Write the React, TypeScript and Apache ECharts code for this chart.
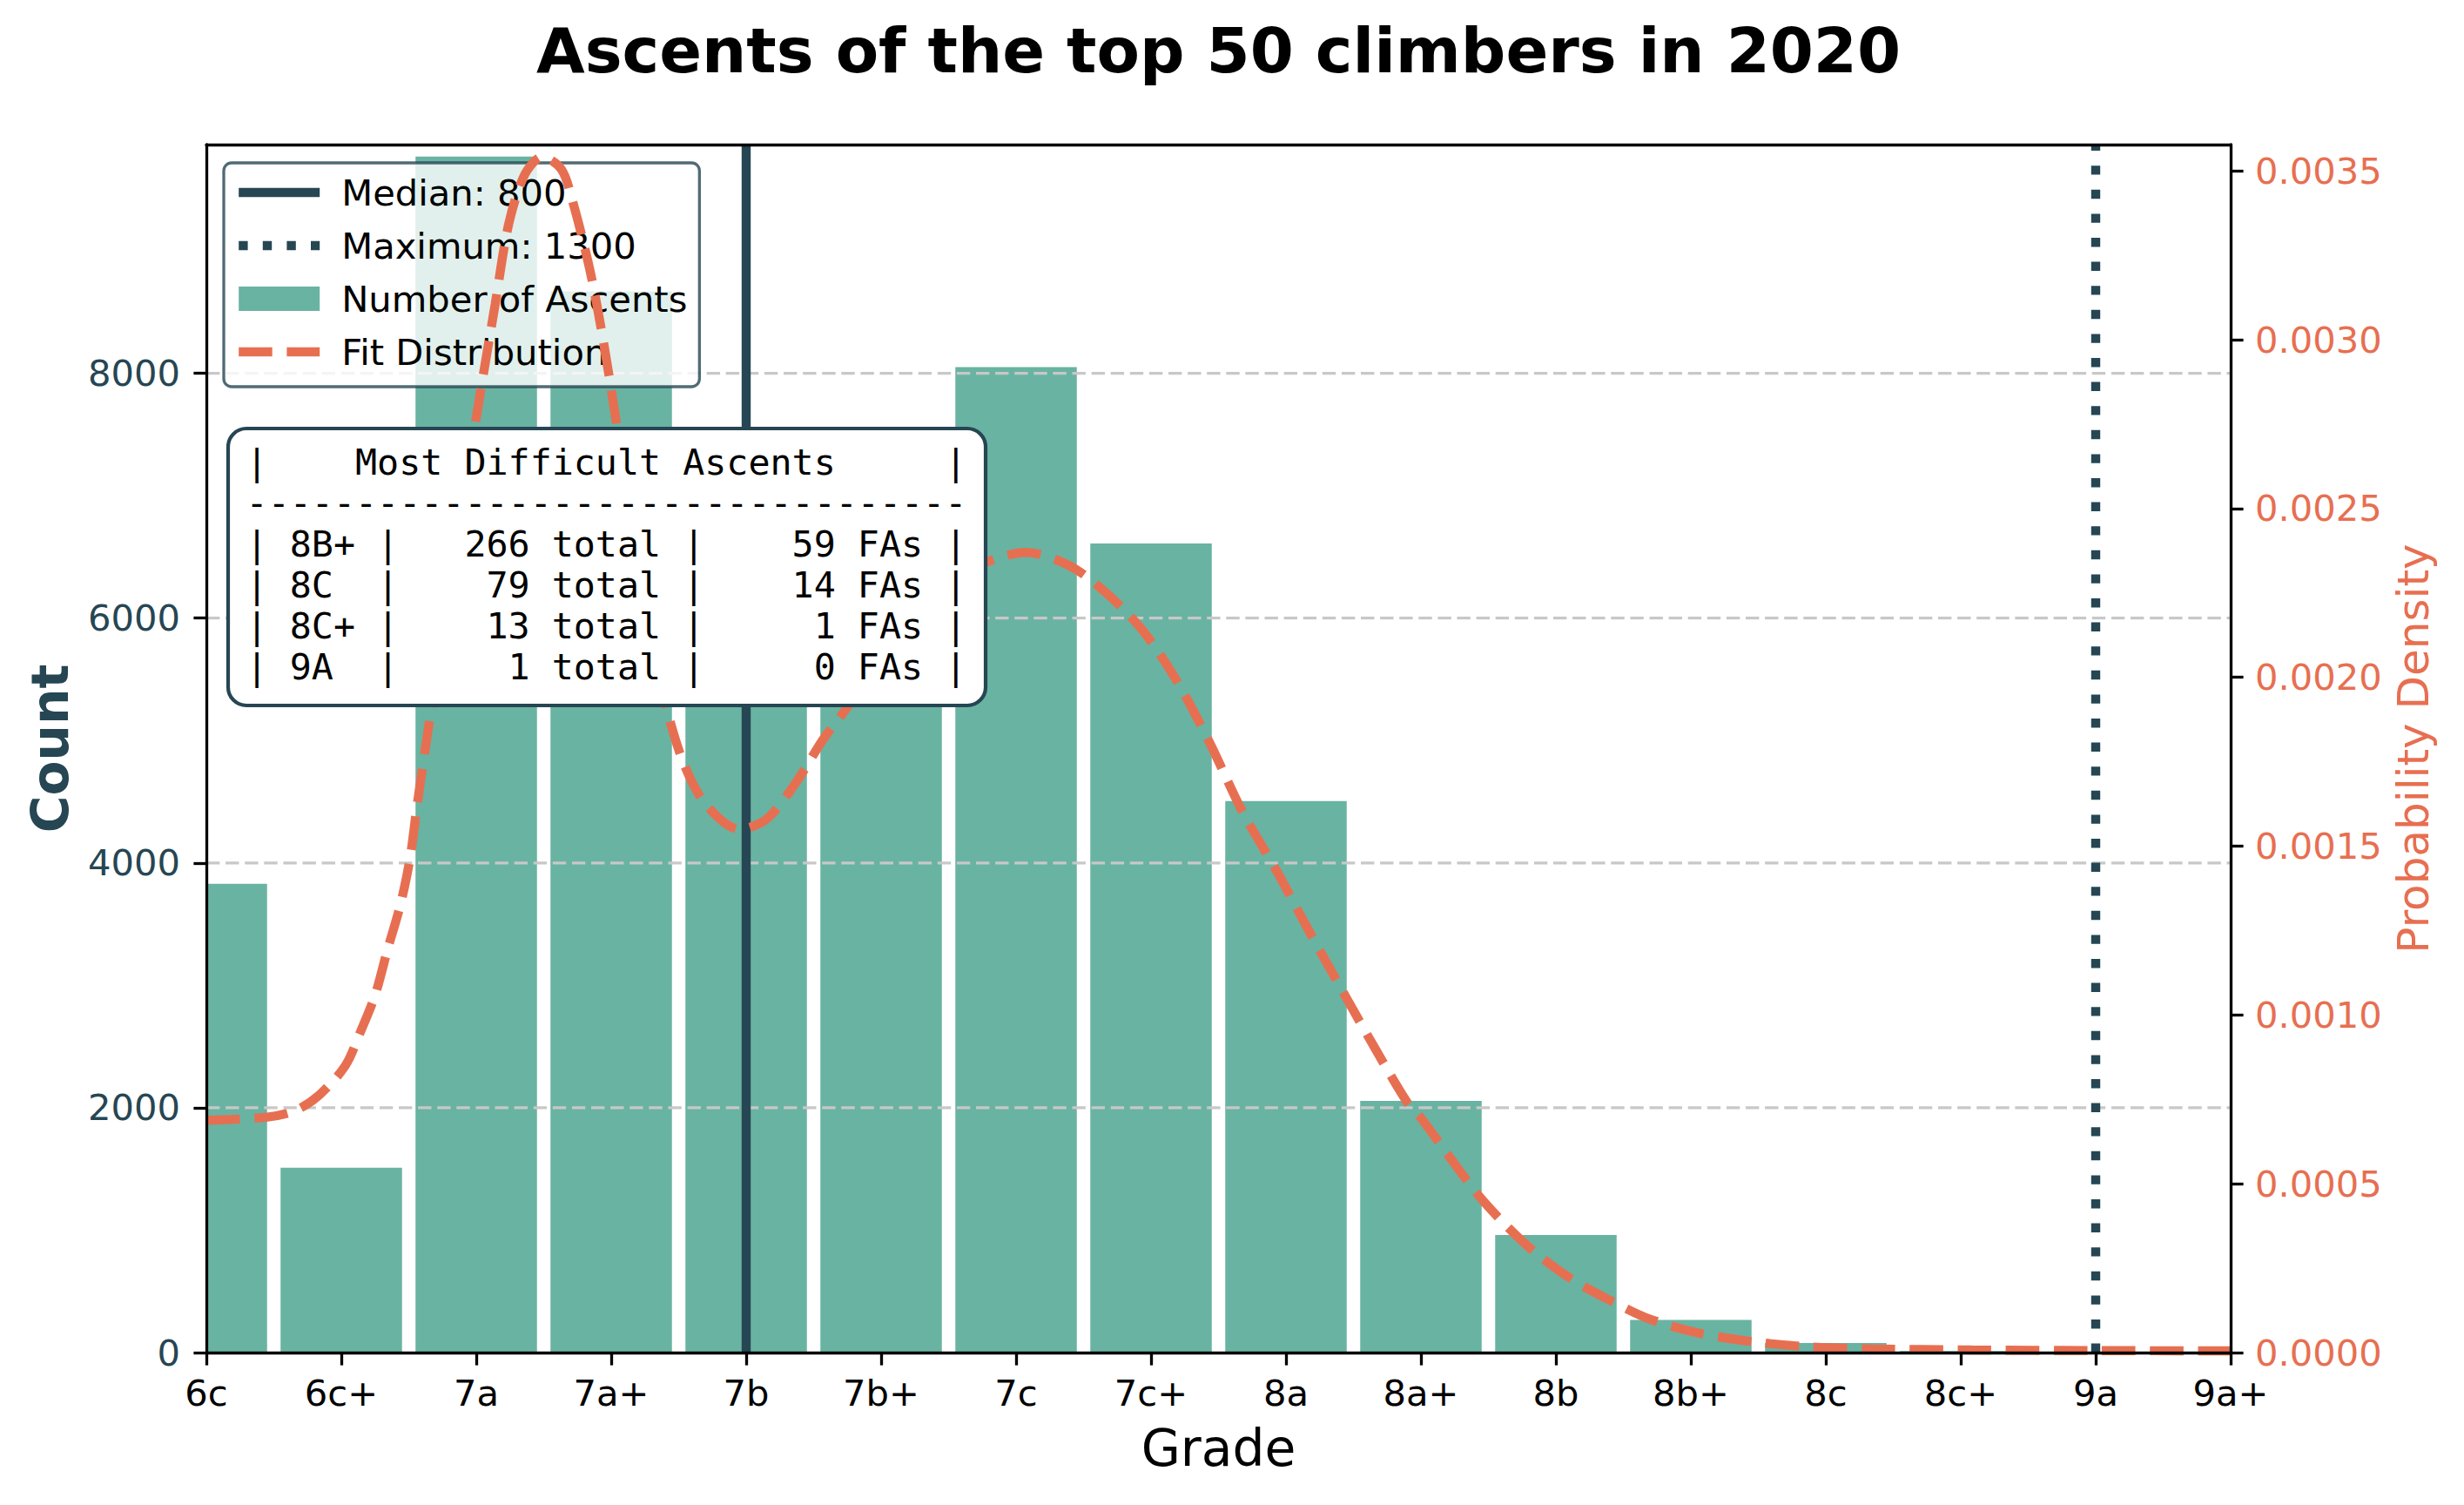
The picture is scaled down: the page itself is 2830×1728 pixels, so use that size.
import React, { useEffect, useRef } from 'react';
import * as echarts from 'echarts';

// ---------------- data ----------------
const GRADE_LABELS = ['6c', '6c+', '7a', '7a+', '7b', '7b+', '7c', '7c+', '8a', '8a+', '8b', '8b+', '8c', '8c+', '9a', '9a+'];
const GRADE_SCORES = [600, 650, 700, 750, 800, 850, 900, 950, 1000, 1050, 1100, 1150, 1200, 1250, 1300, 1350];
const ASCENT_COUNTS = [3830, 1510, 9770, 8670, 5500, 6500, 8050, 6610, 4505, 2057, 961, 266, 79, 13, 1];
const COUNT_TICKS = [0, 2000, 4000, 6000, 8000];
const DENSITY_TICKS = [0, 0.0005, 0.001, 0.0015, 0.002, 0.0025, 0.003, 0.0035];
const CURVE_SCORES = [
  600, 622, 633, 642, 651.5, 657, 662.5, 667, 672, 675.5, 678, 683, 687.5, 692.5, 696.5, 700.5, 707, 712, 718,
  724.5, 731.5, 735.5, 742, 747, 752, 757.5, 762.5, 766.5, 770.5, 777, 785, 797.5, 807.5, 818, 828.5, 835.5,
  850, 862.5, 875, 889.5, 903.5, 920, 934.5, 947, 959.5, 971.5, 984, 996.5, 1008.5, 1021, 1033.5, 1045, 1050,
  1061, 1071.5, 1082.5, 1093, 1106.5, 1120, 1133.5, 1152, 1173.5, 1195, 1216.5, 1254, 1300, 1350,
];
const CURVE_DENSITY = [
  0.000688, 0.000697, 0.000717, 0.000764, 0.00085, 0.000948, 0.001058, 0.00119, 0.00133, 0.001466, 0.001616,
  0.00189, 0.00212, 0.00238, 0.00259, 0.002794, 0.003105, 0.003342, 0.00349, 0.003542, 0.003505, 0.003416,
  0.00321, 0.003, 0.00275, 0.00246, 0.00221, 0.00204, 0.001907, 0.001742, 0.001624, 0.00155, 0.00158, 0.001683,
  0.001816, 0.00189, 0.00205, 0.00219, 0.00229, 0.002343, 0.00237, 0.00233, 0.002242, 0.002138, 0.00199, 0.00181,
  0.0016, 0.001427, 0.001249, 0.00107, 0.000894, 0.00074, 0.000695, 0.000575, 0.000464, 0.000369, 0.000292,
  0.000214, 0.000155, 0.000103, 0.0000593, 0.0000317, 0.0000163, 0.000011, 0.0000077, 0.000006, 0.000005,
];
const MEDIAN_SCORE = 800;
const MAXIMUM_SCORE = 1300;
const TABLE_GRADES = ['8B+', '8C', '8C+', '9A'];
const TABLE_TOTALS = [266, 79, 13, 1];
const TABLE_FAS = [59, 14, 1, 0];

// ---------------- layout / style ----------------
const W = 2830;
const H = 1728;
const PLOT_LEFT = 237;
const PLOT_RIGHT = 2562;
const PLOT_TOP = 166;
const PLOT_BOTTOM = 1553;
const X_MIN = 600;
const X_MAX = 1350;
const X_STEP = 50;
const BAR_WIDTH = 45;
const COUNT_MAX = 9868;
const DENSITY_MAX = 0.003578;

const TEAL = '#69b3a2';
const DARK = '#264653';
const ORANGE = '#e76f51';
const GRID = '#c8c8c8';
const FONT = 'DejaVu Sans';
const MONO = 'DejaVu Sans Mono';
const FS10 = 41.67;
const FS12 = 50;
const FS14 = 58.3;
const FS_TITLE = 72;
const LW = 10.4;
const SPINE = 3.3;

const MEDIAN_NAME = `Median: ${MEDIAN_SCORE}`;
const MAX_NAME = `Maximum: ${MAXIMUM_SCORE}`;

const TABLE_LINES = [
  '|    Most Difficult Ascents     |',
  '-'.repeat(33),
  ...TABLE_GRADES.map(
    (g, i) =>
      `| ${g.padEnd(3)} | ${String(TABLE_TOTALS[i]).padStart(5)} total | ${String(TABLE_FAS[i]).padStart(5)} FAs |`
  ),
];

export default function App() {
  const ref = useRef<HTMLDivElement>(null);

  useEffect(() => {
    if (!ref.current) return;
    const chart = echarts.init(ref.current, null, { renderer: 'svg', width: W, height: H });

    const plotCx = (PLOT_LEFT + PLOT_RIGHT) / 2;
    const plotCy = (PLOT_TOP + PLOT_BOTTOM) / 2;

    const tableX = 262;
    const tableY = 492;
    const tableW = 870;
    const tableH = 318;

    const hiddenSymbol = { opacity: 0 };

    const option: any = {
      animation: false,
      backgroundColor: '#ffffff',
      grid: {
        left: PLOT_LEFT,
        top: PLOT_TOP,
        width: PLOT_RIGHT - PLOT_LEFT,
        height: PLOT_BOTTOM - PLOT_TOP,
        containLabel: false,
      },
      xAxis: [
        {
          type: 'value',
          position: 'bottom',
          min: X_MIN,
          max: X_MAX,
          interval: X_STEP,
          z: 6,
          axisLine: { show: true, onZero: false, lineStyle: { color: '#000', width: SPINE } },
          axisTick: { show: true, length: 14.6, lineStyle: { color: '#000', width: SPINE } },
          axisLabel: {
            show: true,
            margin: 25,
            color: '#000',
            fontFamily: FONT,
            fontSize: FS10,
            showMinLabel: true,
            showMaxLabel: true,
            formatter: (v: number) => {
              const i = GRADE_SCORES.indexOf(Math.round(v));
              return i >= 0 ? GRADE_LABELS[i] : '';
            },
          },
          splitLine: { show: false },
        },
        {
          type: 'value',
          position: 'top',
          min: X_MIN,
          max: X_MAX,
          interval: X_STEP,
          z: 6,
          axisLine: { show: true, onZero: false, lineStyle: { color: '#000', width: SPINE } },
          axisTick: { show: false },
          axisLabel: { show: false },
          splitLine: { show: false },
        },
      ],
      yAxis: [
        {
          type: 'value',
          position: 'left',
          min: 0,
          max: COUNT_MAX,
          z: 6,
          axisLine: { show: true, onZero: false, lineStyle: { color: '#000', width: SPINE } },
          axisTick: { show: true, length: 14.6, customValues: COUNT_TICKS, lineStyle: { color: '#000', width: SPINE } },
          axisLabel: {
            show: true,
            customValues: COUNT_TICKS,
            margin: 30,
            color: DARK,
            fontFamily: FONT,
            fontSize: FS10,
            formatter: (v: number) => String(Math.round(v)),
          },
          splitLine: { show: false },
        },
        {
          type: 'value',
          position: 'right',
          min: 0,
          max: DENSITY_MAX,
          z: 6,
          axisLine: { show: true, onZero: false, lineStyle: { color: '#000', width: SPINE } },
          axisTick: { show: true, length: 14.6, customValues: DENSITY_TICKS, lineStyle: { color: '#000', width: SPINE } },
          axisLabel: {
            show: true,
            customValues: DENSITY_TICKS,
            margin: 28,
            color: ORANGE,
            fontFamily: FONT,
            fontSize: FS10,
            formatter: (v: number) => v.toFixed(4),
          },
          splitLine: { show: false },
        },
      ],
      legend: {
        orient: 'vertical',
        left: 257,
        top: 187,
        z: 4,
        selectedMode: false,
        data: [
          { name: MEDIAN_NAME, itemStyle: hiddenSymbol, lineStyle: { width: LW, type: 'solid', color: DARK } },
          { name: MAX_NAME, itemStyle: hiddenSymbol, lineStyle: { width: LW, type: [10.4, 17.2], color: DARK } },
          { name: 'Number of Ascents', icon: 'rect' },
          { name: 'Fit Distribution', itemStyle: hiddenSymbol, lineStyle: { width: LW, type: [38.5, 16.7], color: ORANGE } },
        ],
        itemWidth: 93,
        itemHeight: 28,
        itemGap: 11,
        padding: [9, 14, 15, 12],
        backgroundColor: 'rgba(255,255,255,0.8)',
        borderColor: 'rgba(38,70,83,0.8)',
        borderWidth: 3.3,
        borderRadius: 9,
        lineStyle: { width: LW, cap: 'butt' },
        textStyle: {
          fontFamily: FONT,
          fontSize: FS10,
          color: '#000',
          lineHeight: 50,
          padding: [0, 0, 0, 20],
        },
      },
      series: [
        {
          name: 'Number of Ascents',
          type: 'custom',
          xAxisIndex: 0,
          yAxisIndex: 0,
          z: 1,
          itemStyle: { color: TEAL },
          encode: { x: 0, y: 1 },
          data: ASCENT_COUNTS.map((c, i) => [GRADE_SCORES[i], c]),
          renderItem: (params: any, api: any) => {
            const x = api.value(0) as number;
            const y = api.value(1) as number;
            const x0 = Math.max(x - BAR_WIDTH / 2, X_MIN);
            const x1 = Math.min(x + BAR_WIDTH / 2, X_MAX);
            const tl = api.coord([x0, y]);
            const br = api.coord([x1, 0]);
            return {
              type: 'rect',
              shape: { x: tl[0], y: tl[1], width: br[0] - tl[0], height: br[1] - tl[1] },
              style: { fill: TEAL },
            };
          },
        },
        {
          name: 'gridlines',
          type: 'custom',
          xAxisIndex: 0,
          yAxisIndex: 0,
          z: 2,
          silent: true,
          encode: { x: 0, y: 1 },
          data: COUNT_TICKS.filter((v) => v > 0).map((v) => [X_MIN, v]),
          renderItem: (params: any, api: any) => {
            const v = api.value(1) as number;
            const p0 = api.coord([X_MIN, v]);
            const p1 = api.coord([X_MAX, v]);
            return {
              type: 'line',
              shape: { x1: p0[0], y1: p0[1], x2: p1[0], y2: p1[1] },
              style: { stroke: GRID, lineWidth: 3.3, lineDash: [15.4, 6.7] },
            };
          },
        },
        {
          name: MEDIAN_NAME,
          type: 'line',
          xAxisIndex: 0,
          yAxisIndex: 0,
          z: 3,
          symbol: 'none',
          silent: true,
          data: [
            [MEDIAN_SCORE, 0],
            [MEDIAN_SCORE, COUNT_MAX],
          ],
          itemStyle: { color: DARK },
          lineStyle: { color: DARK, width: LW, type: 'solid', cap: 'butt' },
        },
        {
          name: MAX_NAME,
          type: 'line',
          xAxisIndex: 0,
          yAxisIndex: 0,
          z: 3,
          symbol: 'none',
          silent: true,
          data: [
            [MAXIMUM_SCORE, 0],
            [MAXIMUM_SCORE, COUNT_MAX],
          ],
          itemStyle: { color: DARK },
          lineStyle: { color: DARK, width: LW, type: [10.4, 17.2], cap: 'butt' },
        },
        {
          name: 'Fit Distribution',
          type: 'line',
          xAxisIndex: 0,
          yAxisIndex: 1,
          z: 5,
          symbol: 'none',
          smooth: 0.3,
          silent: true,
          data: CURVE_SCORES.map((x, i) => [x, CURVE_DENSITY[i]]),
          itemStyle: { color: ORANGE },
          lineStyle: { color: ORANGE, width: LW, type: [38.5, 16.7], cap: 'butt' },
        },
      ],
      graphic: [
        {
          type: 'text',
          x: plotCx,
          y: 58,
          style: {
            text: 'Ascents of the top 50 climbers in 2020',
            fontFamily: FONT,
            fontSize: FS_TITLE,
            fontWeight: 'bold',
            fill: '#000',
            align: 'center',
            verticalAlign: 'middle',
          },
        },
        {
          type: 'text',
          x: 58,
          y: plotCy,
          rotation: Math.PI / 2,
          style: {
            text: 'Count',
            fontFamily: FONT,
            fontSize: FS14,
            fontWeight: 'bold',
            fill: DARK,
            align: 'center',
            verticalAlign: 'middle',
          },
        },
        {
          type: 'text',
          x: plotCx,
          y: 1663,
          style: {
            text: 'Grade',
            fontFamily: FONT,
            fontSize: FS14,
            fill: '#000',
            align: 'center',
            verticalAlign: 'middle',
          },
        },
        {
          type: 'text',
          x: 2772,
          y: plotCy,
          rotation: Math.PI / 2,
          style: {
            text: 'Probability Density',
            fontFamily: FONT,
            fontSize: FS12,
            fill: ORANGE,
            align: 'center',
            verticalAlign: 'middle',
          },
        },
        {
          type: 'group',
          z: 100,
          children: [
            {
              type: 'rect',
              z: 100,
              shape: { x: tableX, y: tableY, width: tableW, height: tableH, r: 21 },
              style: { fill: '#ffffff', stroke: DARK, lineWidth: 4.2 },
            },
            ...TABLE_LINES.map((line, i) => ({
              type: 'text',
              z: 101,
              x: 282.6,
              y: 530 + 47 * i,
              style: {
                text: line,
                fontFamily: MONO,
                fontSize: FS10,
                fill: '#000',
                align: 'left',
                verticalAlign: 'middle',
                whiteSpace: 'pre',
              },
            })),
          ],
        },
      ],
    };

    chart.setOption(option);
    return () => {
      chart.dispose();
    };
  }, []);

  return (
    <div
      ref={ref}
      style={{ position: 'fixed', left: 0, top: 0, width: W, height: H, background: '#fff' }}
    />
  );
}
